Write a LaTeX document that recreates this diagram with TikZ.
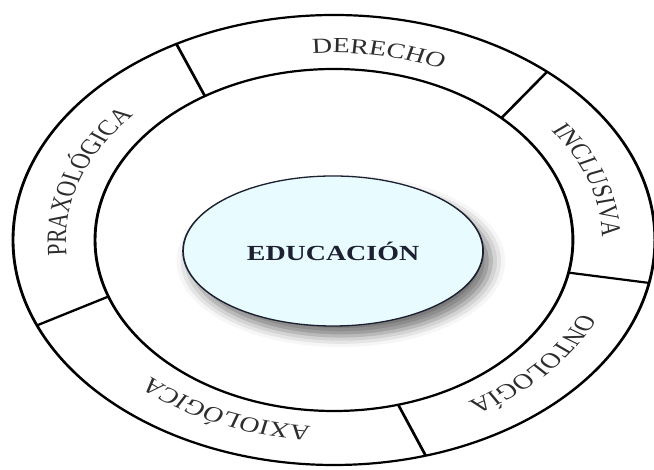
\documentclass[tikz,border=0pt]{standalone}
\usepackage{fontspec}
\setmainfont{Liberation Serif}
\usepackage{tikz}
\usetikzlibrary{shapes.geometric,shadows.blur,decorations.text}
\definecolor{hubfill}{RGB}{232,251,255}
\definecolor{hubline}{RGB}{28,32,48}
\definecolor{ringtext}{RGB}{45,45,45}
\newcommand{\ringsize}{\fontsize{21.5}{21.5}\selectfont}
\tikzset{
	ring/.style = {draw=black, line width=2.2pt},
	divider/.style = {draw=black, line width=2.2pt},
	hub/.style = {
			ellipse,
			draw            = hubline,
			line width      = 1.3pt,
			fill            = hubfill,
			text            = hubline,
			minimum width   = 230.8pt,
			minimum height  = 150pt,
			inner sep       = 0pt,
			blur shadow     = {shadow xshift=6pt, shadow yshift=-10pt, shadow blur radius=11pt, shadow opacity=55},
		},
	ringlabel/.style = {
			decorate,
			decoration = {text along path, text align=center, text color=ringtext, text={|\ringsize|#1}},
		},
}

\begin{document}
\begin{tikzpicture}[x=1pt, y=1pt]
		\useasboundingbox (0,0) rectangle (654,470);

		% the whole figure is stretched sideways
		\begin{scope}[transform canvas={xscale=1.3}]
			\begin{scope}[shift={(256.9,230)}]
				\draw[ring] (0,0) ellipse [x radius=246.9pt, y radius=225pt];
				\draw[ring] (0,0) ellipse [x radius=183.8pt, y radius=171pt];

				% ends of the dividers
				\coordinate (topleftout) at (119.4:246.9pt and 225pt);
				\coordinate (topleftin) at (122.7:183.8pt and 171pt);
				\coordinate (toprightout) at (48.4:246.9pt and 225pt);
				\coordinate (toprightin) at (45.5:183.8pt and 171pt);
				\coordinate (rightout) at (-11:246.9pt and 225pt);
				\coordinate (rightin) at (-11:183.8pt and 171pt);
				\coordinate (bottomout) at (-73.4:246.9pt and 225pt);
				\coordinate (bottomin) at (-74.4:183.8pt and 171pt);
				\coordinate (leftout) at (202.3:246.9pt and 225pt);
				\coordinate (leftin) at (199.3:183.8pt and 171pt);

				\draw[divider] (topleftout) -- (topleftin);
				\draw[divider] (toprightout) -- (toprightin);
				\draw[divider] (rightout) -- (rightin);
				\draw[divider] (bottomout) -- (bottomin);
				\draw[divider] (leftout) -- (leftin);

				\path[ringlabel=DERECHO] (110.3:206.2pt and 187pt) arc[start angle=110.3, end angle=50.3, x radius=206.2pt, y radius=187pt];
				\path[ringlabel=INCLUSIVA] (48.2:206.2pt and 187pt) arc[start angle=48.2, end angle=-11.8, x radius=206.2pt, y radius=187pt];
				\path[ringlabel=ONTOLOGÍA] (-11.1:206.2pt and 187pt) arc[start angle=-11.1, end angle=-71.1, x radius=206.2pt, y radius=187pt];
				\path[ringlabel=AXIOLÓGICA] (275.7:206.2pt and 187pt) arc[start angle=275.7, end angle=215.7, x radius=206.2pt, y radius=187pt];
				\path[ringlabel=PRAXOLÓGICA] (191.7:206.2pt and 187pt) arc[start angle=191.7, end angle=131.7, x radius=206.2pt, y radius=187pt];
			\end{scope}

			\node[hub] at (256.2,219) (educacion) {\bfseries\fontsize{21.5}{21.5}\selectfont EDUCACIÓN};
		\end{scope}
	\end{tikzpicture}
\end{document}
